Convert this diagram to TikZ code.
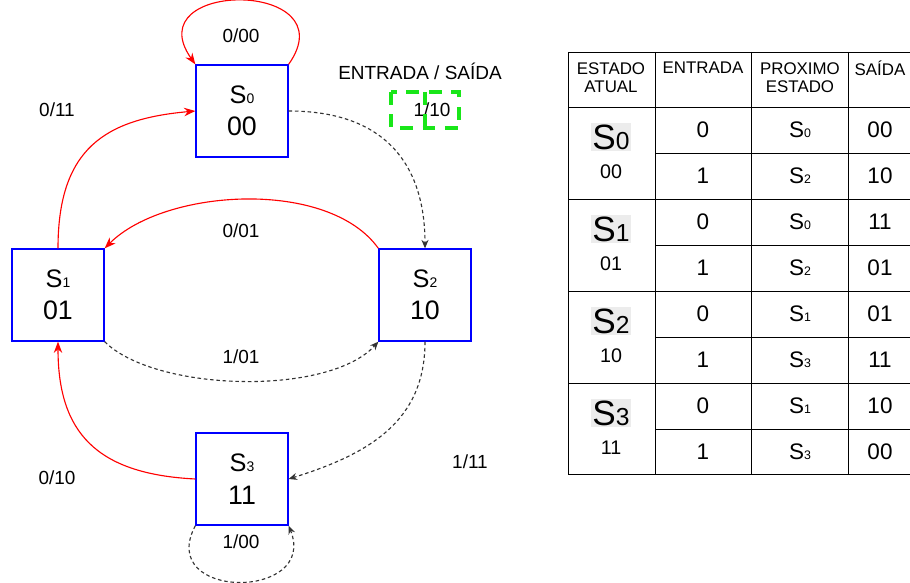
\documentclass[tikz,border=0pt]{standalone}
\usepackage{fontspec}
\setmainfont{Liberation Sans}
\usetikzlibrary{arrows.meta}

\definecolor{selgreen}{RGB}{25,230,25}
\newcommand{\est}[1]{S\scalebox{0.55}{#1}}
\newcommand{\estg}[1]{S\scalebox{0.7}{#1}}

\begin{document}
\begin{tikzpicture}[x=0.025cm, y=-0.025cm]
    \tikzset{
      state/.style={rectangle, draw=blue, line width=0.9pt, minimum width=2.3cm,
                    minimum height=2.3cm, inner sep=0pt, align=center,
                    font=\fontsize{19}{23}\selectfont},
      lbl/.style={font=\fontsize{13.5}{16}\selectfont},
      zero/.style={red, line width=0.8pt, -{Stealth[length=8pt, width=6pt]}},
      one/.style={black!80, line width=0.8pt, dash pattern=on 2.5pt off 2pt,
                  -{Stealth[length=6pt, width=5pt]}},
      head/.style={align=center, font=\fontsize{12}{13}\selectfont},
      cell/.style={font=\fontsize{16}{18}\selectfont},
      nxt/.style={font=\fontsize{16}{18}\selectfont},
      big/.style={fill=gray!15, inner sep=1pt, font=\fontsize{25}{28}\selectfont}
    }
    \useasboundingbox (0,0) rectangle (910,583);

    % Estados
    \node[state] (s0) at (242,111) {{\fontsize{18}{20}\selectfont\est{0}}\\00};
    \node[state] (s1) at (58,295) {{\fontsize{18}{20}\selectfont\est{1}}\\01};
    \node[state] (s2) at (425,295) {{\fontsize{18}{20}\selectfont\est{2}}\\10};
    \node[state] (s3) at (242,479) {{\fontsize{18}{20}\selectfont\est{3}}\\11};

    % Transicoes com entrada 0
    \draw[zero] (s0.north east) .. controls +(60,-85) and +(-60,-85) .. (s0.north west);
    \draw[zero] (s1.north) .. controls +(0,-100) and +(-90,8) .. (s0.west);
    \draw[zero] (s2.north west) .. controls +(-50,-70) and +(60,-60) .. (s1.north east);
    \draw[zero] (s3.west) .. controls +(-100,-5) and +(0,90) .. (s1.south);

    % Transicoes com entrada 1
    \draw[one] (s0.east) .. controls +(100,0) and +(0,-80) .. (s2.north);
    \draw[one] (s1.south east) .. controls +(50,50) and +(-50,55) .. (s2.south west);
    \draw[one] (s2.south) .. controls +(0,80) and +(80,-25) .. (s3.east);
    \draw[one] (s3.south west) .. controls +(-40,75) and +(30,75) .. (s3.south east);

    % Rotulos
    \node[lbl] (t00) at (241,36) {0/00};
    \node[lbl] (t11) at (57,110) {0/11};
    \node[lbl] (t01) at (241,231) {0/01};
    \node[lbl] (t10) at (57,478) {0/10};
    \node[lbl] (u10) at (432,110) {1/10};
    \node[lbl] (u01) at (241,357) {1/01};
    \node[lbl] (u11) at (470,462) {1/11};
    \node[lbl] (u00) at (241,542) {1/00};
    \node[lbl] (legenda) at (420,71) {ENTRADA / SAÍDA};
    \draw[selgreen, line width=2.6pt, dash pattern=on 9pt off 7pt]
      (391,92) rectangle (459,128) (425,92) -- (425,128);

    % Tabela
    \draw[line width=0.6pt] (568,52) -- (568,474);
    \foreach \x in {655,751,848} \draw[line width=0.6pt] (\x,52) -- (\x,474);
    \foreach \y in {52,107,199,291,383,474} \draw[line width=0.6pt] (568,\y) -- (912,\y);
    \foreach \y in {153,245,337,429} \draw[line width=0.6pt] (655,\y) -- (912,\y);

    \node[head] (hatual) at (611,78) {ESTADO\\ATUAL};
    \node[head] (hentrada) at (703,68) {ENTRADA};
    \node[head] (hprox) at (800,78) {PROXIMO\\ESTADO};
    \node[head] (hsaida) at (880,68) {SAÍDA};

    \foreach \k/\c in {0/00,1/01,2/10,3/11} {
      \node[big] (a\k) at (611,137+92*\k) {\estg{\k}};
      \node[font=\fontsize{14}{16}\selectfont] (c\k) at (611,172+92*\k) {\c};
    }
    \foreach \i/\e/\p/\o in {0/0/0/00, 1/1/2/10, 2/0/0/11, 3/1/2/01,
                             4/0/1/01, 5/1/3/11, 6/0/1/10, 7/1/3/00} {
      \node[cell] (e\i) at (703,130+46*\i) {\e};
      \node[nxt] (p\i) at (800,130+46*\i) {\est{\p}};
      \node[cell] (o\i) at (880,130+46*\i) {\o};
    }
  \end{tikzpicture}
\end{document}
